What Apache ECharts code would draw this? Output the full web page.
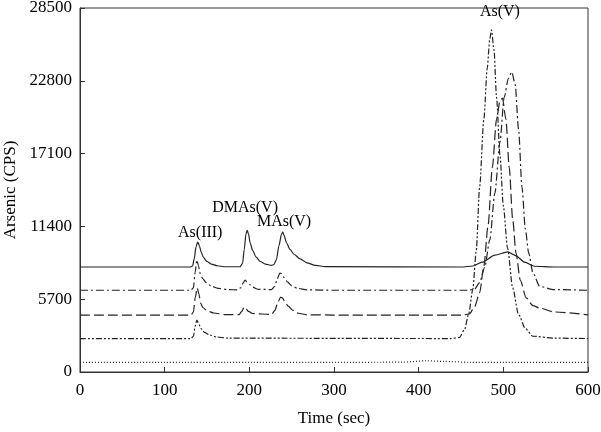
<!DOCTYPE html>
<html><head><meta charset="utf-8">
<script src="https://cdn.jsdelivr.net/npm/echarts@6/dist/echarts.min.js"></script>
<style>html,body{margin:0;padding:0;background:#fff}#c{width:601px;height:432px}</style>
</head><body><div id="c"></div>
<script>
var xTicks = [0,100,200,300,400,500,600];
var yTicks = [0,5700,11400,17100,22800,28500];
var traceSolid = [[0,8220],[130,8220],[133,8300],[135,8900],[137,9800],[139,10180],[141,9900],[143,9400],[146,8950],[150,8650],[155,8450],[162,8320],[172,8240],[189,8240],[192,8500],[194,9600],[196,10800],[197.5,11100],[199,10800],[201,10100],[204,9500],[208,9000],[213,8650],[219,8450],[226,8350],[229,8400],[232,8800],[235,9900],[238,10800],[239.5,10950],[241,10700],[244,10100],[248,9600],[253,9200],[260,8850],[268,8550],[278,8350],[290,8250],[450,8220],[464,8300],[475,8600],[490,9150],[505,9400],[515,9100],[525,8600],[537,8280],[560,8220],[600,8220]];
var traceDashDot = [[0,6400],[131,6400],[134,6600],[136,7800],[138,8770],[140,8300],[142,7700],[145,7300],[149,7000],[155,6720],[163,6550],[175,6450],[186,6430],[190,6600],[193,7000],[195,7200],[197,7050],[200,6850],[204,6650],[210,6480],[226,6450],[230,6700],[233,7300],[236,7750],[238,7700],[241,7400],[245,7050],[250,6750],[257,6550],[268,6430],[300,6400],[458,6400],[466,6480],[472,7000],[478,8200],[484,10340],[490,14000],[496,18000],[501,21500],[506,23000],[510,23490],[514,22500],[518,19000],[522,14500],[526,11200],[530,9300],[535,7750],[543,6700],[560,6450],[600,6400]];
var traceDashed = [[0,4460],[131,4460],[134,4700],[136,5800],[138.5,6580],[140.5,6100],[142.5,5400],[145,5050],[150,4800],[158,4620],[170,4500],[188,4500],[191,4750],[194,5090],[196,4950],[199,4750],[204,4580],[226,4500],[230,4800],[234,5500],[237,5870],[239,5800],[242,5500],[246,5150],[251,4850],[258,4600],[268,4480],[300,4460],[452,4460],[460,4550],[466,5100],[472,6200],[477,8300],[482,11500],[487,16000],[492,19800],[496,21200],[499,21450],[503,19800],[507,16000],[511,12000],[515,9300],[520,7200],[527,5800],[535,5200],[543,5000],[560,4700],[600,4480]];
var traceDashDotDot = [[0,2620],[131,2620],[134,2800],[136,3600],[138,4070],[140,3800],[143,3400],[147,3100],[153,2900],[162,2740],[175,2650],[438,2620],[448,2700],[454,3300],[459,4500],[464,6500],[468,9500],[472,14500],[477,19800],[481,23800],[484,26100],[486,26780],[489,25200],[492,21500],[496,17000],[500,13000],[505,9700],[511,6600],[518,4500],[526,3400],[535,2800],[560,2650],[600,2620]];
var traceDotted = [[0,750],[100,750],[200,760],[300,750],[380,770],[410,880],[430,830],[460,760],[600,750]];
var peakLabels = ['As(III)','DMAs(V)','MAs(V)','As(V)'];
var peakLabelPos = [[142,10880],[195,12840],[241,11750],[496,28190]];

var font = 'Liberation Serif';
var col = '#222';
function mk(data, type, name){
  return {type:'line', name:name, data:data, showSymbol:false, smooth:0.25, smoothMonotone:'x',
    lineStyle:{color:col, width:1.2, type:type}, silent:true, animation:false};
}
var series = [
  mk(traceSolid,'solid','A'),
  mk(traceDashDot,[8,3,2,3],'B'),
  mk(traceDashed,[10,4],'C'),
  mk(traceDashDotDot,[6,2,2,2,2,2],'D'),
  mk(traceDotted,[1,2],'E')
];
series.push({type:'scatter', data:peakLabelPos.map(function(p,i){return {value:p, name:peakLabels[i]};}),
  symbolSize:0, silent:true, animation:false, itemStyle:{opacity:1, color:'#000'},
  label:{show:true, position:'inside', formatter:'{b}', fontFamily:font, fontSize:16, color:'#000', opacity:1}});

var chart = echarts.init(document.getElementById('c'), null, {renderer:'canvas'});
chart.setOption({
  animation:false,
  grid:{left:80, right:13, top:8, bottom:60, containLabel:false, outerBoundsMode:'none', show:true, borderColor:'#333', borderWidth:1},
  xAxis:{type:'value', min:0, max:600, interval:100,
    name:'Time (sec)', nameLocation:'middle', nameGap:38,
    nameTextStyle:{fontFamily:font, fontSize:17, color:'#000'},
    axisLine:{lineStyle:{color:'#333'}}, axisTick:{inside:true, length:5, lineStyle:{color:'#333'}},
    axisLabel:{fontFamily:font, fontSize:17, color:'#000', margin:10, formatter:function(v){return String(v);}}, splitLine:{show:false}},
  yAxis:{type:'value', min:0, max:28500, interval:5700,
    name:'Arsenic (CPS)', nameLocation:'middle', nameGap:59, nameRotate:90,
    nameTextStyle:{fontFamily:font, fontSize:17, color:'#000'},
    axisLine:{show:true, lineStyle:{color:'#333'}}, axisTick:{show:true, inside:true, length:5, lineStyle:{color:'#333'}},
    axisLabel:{fontFamily:font, fontSize:17, color:'#000', margin:8, formatter:function(v){return String(v);}}, splitLine:{show:false}},
  series:series
});
</script></body></html>
